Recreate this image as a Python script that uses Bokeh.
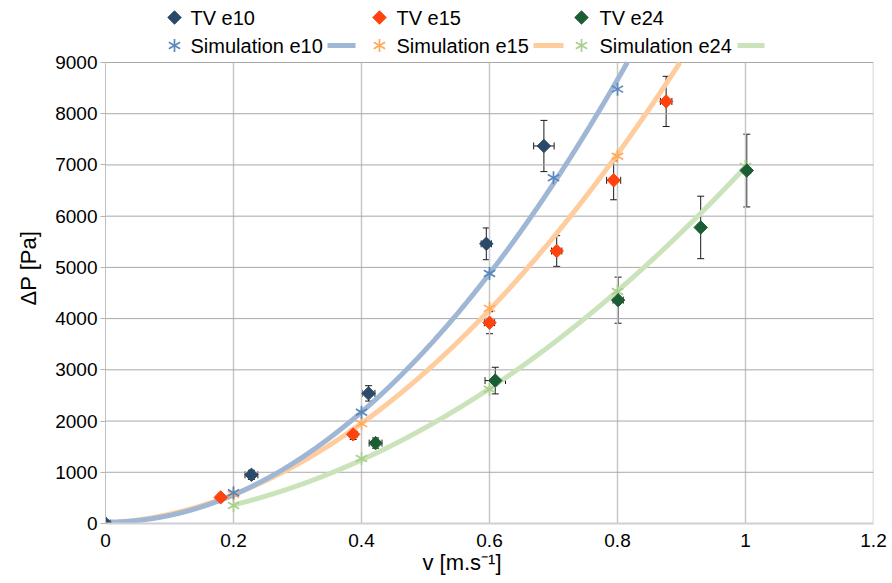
import numpy as np
from bokeh.plotting import figure
from bokeh.models import Range1d, FixedTicker, Whisker, ColumnDataSource, TeeHead
from bokeh.core.properties import value
from bokeh.embed import file_html
from bokeh.resources import INLINE

# ---------------- data ----------------
series_tv = ["TV e10", "TV e15", "TV e24"]
series_sim = ["Simulation e10", "Simulation e15", "Simulation e24"]

tv_e10_v = [0.0, 0.228, 0.411, 0.595, 0.685]
tv_e10_dp = [0, 950, 2540, 5460, 7370]
tv_e10_dp_err = [40, 90, 150, 310, 500]
tv_e10_v_err = [0.02, 0.01, 0.01, 0.008, 0.016]

tv_e15_v = [0.18, 0.387, 0.6, 0.705, 0.794, 0.876]
tv_e15_dp = [510, 1740, 3920, 5320, 6700, 8240]
tv_e15_dp_err = [40, 100, 215, 300, 380, 490]
tv_e15_v_err = [0.005, 0.006, 0.008, 0.008, 0.011, 0.009]

tv_e24_v = [0.422, 0.609, 0.801, 0.93, 1.002]
tv_e24_dp = [1570, 2790, 4360, 5780, 6890]
tv_e24_dp_err = [100, 260, 450, 610, 710]
tv_e24_v_err = [0.01, 0.016, 0.008, 0.005, 0.006]

sim_e10_v = [0.0, 0.2, 0.4, 0.6, 0.7, 0.8, 1.0]
sim_e10_dp = [0, 600, 2170, 4880, 6750, 8480, 13600]
sim_e15_v = [0.0, 0.2, 0.4, 0.6, 0.8, 1.0]
sim_e15_dp = [0, 570, 1950, 4200, 7170, 11100]
sim_e24_v = [0.2, 0.4, 0.6, 0.8, 1.0]
sim_e24_dp = [350, 1270, 2620, 4530, 6970]

x_ticks = [0, 0.2, 0.4, 0.6, 0.8, 1.0, 1.2]
x_tick_labels = ["0", "0.2", "0.4", "0.6", "0.8", "1", "1.2"]
y_ticks = [0, 1000, 2000, 3000, 4000, 5000, 6000, 7000, 8000, 9000]

tv_colors = ["#2b4a69", "#ff420e", "#1c5e33"]
sim_colors = ["#5a87ba", "#ffa95a", "#a6d08c"]
line_colors = ["#9fb7d5", "#ffcc9e", "#cbe3bb"]

FONT = "Liberation Sans"
NB = "\u00a0"

# ---------------- layout constants (pixels) ----------------
W, H = 892, 583
FRAME_L, FRAME_R = 105, 873
PLOT_TOP, PLOT_BOTTOM = 62, 523          # where y = y_max and y = 0 sit
X_MAX = 1.2
Y_MAX = 9000
# frame spans from pixel 0 to PLOT_BOTTOM so that the legend lives inside the frame
y_top = Y_MAX * PLOT_BOTTOM / (PLOT_BOTTOM - PLOT_TOP)

p = figure(width=W, height=H, x_range=Range1d(0, X_MAX), y_range=Range1d(0, y_top),
           min_border_left=FRAME_L, min_border_right=W - FRAME_R, min_border_top=0,
           min_border_bottom=H - PLOT_BOTTOM,
           toolbar_location=None, output_backend="svg")
p.outline_line_color = None
p.background_fill_color = "white"
p.border_fill_color = "white"
p.grid.visible = False

p.xaxis.ticker = FixedTicker(ticks=x_ticks)
p.xaxis.major_label_overrides = {t: l for t, l in zip(x_ticks, x_tick_labels)}
p.yaxis.ticker = FixedTicker(ticks=y_ticks)
p.yaxis.bounds = (0, Y_MAX)
p.xaxis.axis_label = "v [m.s\u207b\u00b9]" + NB * 9
p.yaxis.axis_label = "\u0394P [Pa]" + NB * 2
for ax in (p.xaxis, p.yaxis):
    ax.axis_label_text_font = FONT
    ax.axis_label_text_font_size = "22px"
    ax.axis_label_text_font_style = "normal"
    ax.axis_label_text_color = "#000000"
    ax.major_label_text_font = FONT
    ax.major_label_text_font_size = "19px"
    ax.major_label_text_color = "#000000"
    ax.minor_tick_line_color = None
    ax.major_tick_in = 0
p.xaxis.major_tick_out = 0
p.xaxis.major_label_standoff = 10
p.xaxis.axis_label_standoff = 0
p.xaxis.axis_line_color = "#d0d0d0"
p.xaxis.axis_line_width = 2
p.yaxis.major_tick_out = 5
p.yaxis.major_tick_line_color = "#b3b3b3"
p.yaxis.major_label_standoff = 3
p.yaxis.axis_label_standoff = 11
p.yaxis.axis_line_color = "#c0c0c0"

# grid lines, limited to the plot area
p.segment(x0=x_ticks[1:], x1=x_ticks[1:], y0=[0] * (len(x_ticks) - 1), y1=[Y_MAX] * (len(x_ticks) - 1),
          line_color="#c8c8c8", line_width=1.5)
p.segment(x0=[0] * (len(y_ticks) - 1), x1=[X_MAX] * (len(y_ticks) - 1), y0=y_ticks[1:], y1=y_ticks[1:],
          line_color="#a8a8a8", line_width=1)

sims = [(sim_e10_v, sim_e10_dp), (sim_e15_v, sim_e15_dp), (sim_e24_v, sim_e24_dp)]
tvs = [(tv_e10_v, tv_e10_dp, tv_e10_dp_err, tv_e10_v_err),
       (tv_e15_v, tv_e15_dp, tv_e15_dp_err, tv_e15_v_err),
       (tv_e24_v, tv_e24_dp, tv_e24_dp_err, tv_e24_v_err)]

STAR_ANGLES = [np.pi / 2, np.pi / 6, -np.pi / 6]


def star(fig, xs, ys, color, **kw):
    for a in STAR_ANGLES:
        fig.scatter(xs, ys, marker="dash", angle=a, size=13, line_color=color, line_width=1.7, **kw)


# trend lines (quadratic fit of each simulation series), cut at the top of the plot area
for i in [2, 1, 0]:
    sv, sd = sims[i]
    coef = np.polyfit(sv, sd, 2)
    xs = np.linspace(min(sv), max(sv), 3000)
    ys = np.polyval(coef, xs)
    keep = ys <= Y_MAX
    p.line(xs[keep], ys[keep], line_width=5, line_color=line_colors[i], line_cap="butt")

# simulation star markers (only those inside the plot area)
for i in [2, 1, 0]:
    sv, sd = np.array(sims[i][0]), np.array(sims[i][1])
    m = sd <= Y_MAX
    star(p, sv[m], sd[m], sim_colors[i])

# TV diamonds + error bars
for i in range(3):
    v, d, de, ve = tvs[i]
    v = np.array(v); d = np.array(d); de = np.array(de); ve = np.array(ve)
    p.scatter(v, d, marker="square", angle=np.pi / 4, size=9.5, fill_color=tv_colors[i],
              line_color=tv_colors[i], line_width=1)
    src = ColumnDataSource(dict(v=v, d=d, dlo=d - de, dhi=d + de, vlo=v - ve, vhi=v + ve))
    p.add_layout(Whisker(source=src, base="v", lower="dlo", upper="dhi", dimension="height",
                         line_color="#1a1a1a", line_width=1,
                         upper_head=TeeHead(size=7, line_color="#1a1a1a", line_width=1),
                         lower_head=TeeHead(size=7, line_color="#1a1a1a", line_width=1)))
    p.add_layout(Whisker(source=src, base="d", lower="vlo", upper="vhi", dimension="width",
                         line_color="#1a1a1a", line_width=1,
                         upper_head=TeeHead(size=7, line_color="#1a1a1a", line_width=1),
                         lower_head=TeeHead(size=7, line_color="#1a1a1a", line_width=1)))

# ---------------- legend (pixel coordinates via extra ranges) ----------------
p.extra_x_ranges = {"leg": Range1d(FRAME_L, FRAME_R)}
p.extra_y_ranges = {"leg": Range1d(PLOT_BOTTOM, 0)}
LG = dict(x_range_name="leg", y_range_name="leg")

leg_mx = [174, 379, 581]
leg_tx = [190, 396, 599]
leg_line_x0 = [327, 533, 737]
leg_line_x1 = [355, 563, 764]
row1 = 17
row2 = 45
p.scatter(leg_mx, [row1] * 3, marker="square", angle=np.pi / 4, size=9.5,
          fill_color=tv_colors, line_color=tv_colors, **LG)
p.text(leg_tx, [row1] * 3, text=series_tv, text_baseline="middle",
       text_font=value(FONT), text_font_size="20px", text_color="#000000", **LG)
for j in range(3):
    star(p, [leg_mx[j]], [row2], sim_colors[j], **LG)
p.text(leg_tx, [row2] * 3, text=series_sim, text_baseline="middle",
       text_font=value(FONT), text_font_size="20px", text_color="#000000", **LG)
p.segment(x0=leg_line_x0, x1=leg_line_x1, y0=[row2] * 3, y1=[row2] * 3,
          line_width=5, line_color=line_colors, **LG)

open("out.html", "w").write(file_html(p, INLINE))
